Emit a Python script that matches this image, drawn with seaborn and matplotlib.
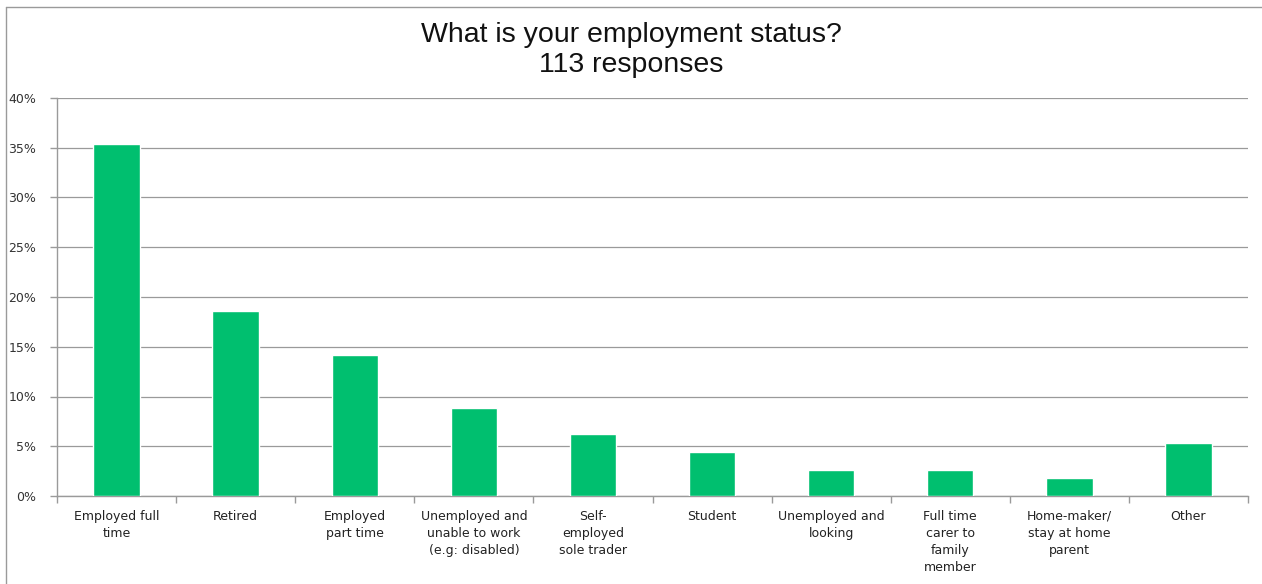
import matplotlib
matplotlib.use("Agg")
import matplotlib.pyplot as plt
import seaborn as sns
import pandas as pd
import numpy as np
from matplotlib.lines import Line2D

categories = [
    "Employed full\ntime",
    "Retired",
    "Employed\npart time",
    "Unemployed and\nunable to work\n(e.g: disabled)",
    "Self-\nemployed\nsole trader",
    "Student",
    "Unemployed and\nlooking",
    "Full time\ncarer to\nfamily\nmember",
    "Home-maker/\nstay at home\nparent",
    "Other",
]
percent = [35.4, 18.6, 14.2, 8.8, 6.2, 4.4, 2.65, 2.65, 1.77, 5.3]
y_ticks = [0, 5, 10, 15, 20, 25, 30, 35, 40]
y_tick_labels = [f"{v}%" for v in y_ticks]

df = pd.DataFrame({"category": categories, "percent": percent})

sns.set_theme(style="white")
plt.rcParams["font.family"] = ["DejaVu Sans"]

fig = plt.figure(figsize=(12.62, 5.84), dpi=100)
ax = fig.add_axes([57 / 1262, 1 - 496 / 584, (1248 - 57) / 1262, (496 - 98) / 584])

sns.barplot(data=df, x="category", y="percent", color="#00BF6F", width=0.39,
            saturation=1, ax=ax, zorder=3)

ax.set_ylim(0, 40)
ax.set_xlim(-0.5, len(categories) - 0.5)
ax.set_yticks(y_ticks)
ax.set_yticklabels(y_tick_labels, fontsize=9, color="#333333")
ax.set_xticks(range(len(categories)))
ax.set_xticklabels(categories, fontsize=9, color="#222222", linespacing=1.4)
ax.set_xlabel("")
ax.set_ylabel("")
ax.yaxis.grid(True, color="#9a9a9a", linewidth=0.9, zorder=0)
ax.set_axisbelow(True)

for s in ["top", "right"]:
    ax.spines[s].set_visible(False)
for s in ["left", "bottom"]:
    ax.spines[s].set_color("#9a9a9a")
    ax.spines[s].set_linewidth(1.0)

ax.tick_params(axis="x", which="major", length=0, pad=10)
ax.set_xticks(np.arange(-0.5, len(categories), 1.0), minor=True)
ax.tick_params(axis="x", which="minor", length=5, color="#9a9a9a", width=1, direction="out", bottom=True)
ax.tick_params(axis="y", length=5, color="#9a9a9a", width=1, direction="out", left=True, pad=10)

fig.text(0.5, 1 - 50 / 584, "What is your employment status?\n113 responses",
         ha="center", va="center", fontsize=20.5, family=["Liberation Sans", "DejaVu Sans"],
         color="#111111", linespacing=1.2)

fig.add_artist(Line2D([6 / 1262, 6 / 1262], [0, 1 - 7 / 584], transform=fig.transFigure,
                      color="#9a9a9a", linewidth=1))
fig.add_artist(Line2D([6 / 1262, 1], [1 - 7 / 584, 1 - 7 / 584], transform=fig.transFigure,
                      color="#9a9a9a", linewidth=1))

fig.savefig("out.png", dpi=100)
